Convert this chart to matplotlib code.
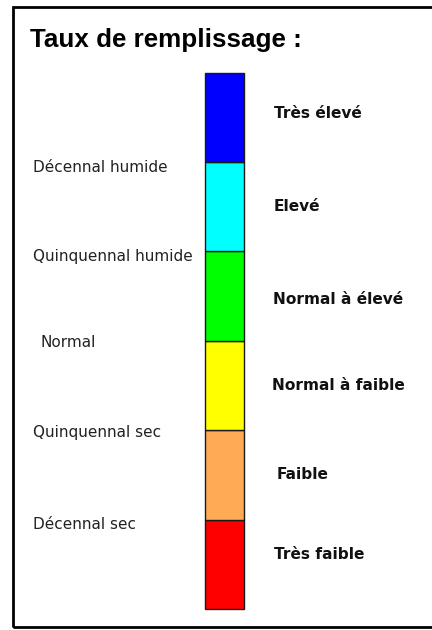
import matplotlib
matplotlib.use("Agg")
import matplotlib.pyplot as plt
from matplotlib.patches import Rectangle

# niveaux du bas vers le haut
niveaux = ["Très faible", "Faible", "Normal à faible", "Normal à élevé", "Elevé", "Très élevé"]
couleurs = ["#FF0000", "#FFAA55", "#FFFF00", "#00FF00", "#00FFFF", "#0000FF"]
# seuils aux limites entre niveaux (1 = entre Très faible et Faible, ...)
seuils = ["Décennal sec", "Quinquennal sec", "Normal", "Quinquennal humide", "Décennal humide"]
titre = "Taux de remplissage :"

W, H = 432, 630
fig = plt.figure(figsize=(W / 100, H / 100), dpi=100)
fig.patch.set_facecolor("white")

# cadre noir (bord droit hors image)
cadre = Rectangle((13 / W, 1 - 627 / H), 1.0, (627 - 7) / H, transform=fig.transFigure,
                  fill=False, edgecolor="black", linewidth=2.0, clip_on=False)
fig.patches.append(cadre)

fig.text(30 / W, 1 - 47 / H, titre, fontsize=18.7, fontweight="bold",
         family="Liberation Sans", va="baseline", ha="left")

ax = fig.add_axes([205 / W, 1 - 609 / H, 39 / W, (609 - 72.5) / H])
ax.set_xlim(0, 1)
ax.set_ylim(0, len(niveaux))
ax.axis("off")

for i, (nom, c) in enumerate(zip(niveaux, couleurs)):
    ax.bar(0.5, 1, width=1, bottom=i, color=c, edgecolor="#1a1a1a", linewidth=1.0, clip_on=False)

# libellés à droite
x_droite = [274, 277, 272, 273, 274, 274]
dy_droite = [10, 0, 0, -3, 0, 4]
for i, nom in enumerate(niveaux):
    ax.annotate(nom, xy=(x_droite[i] / W, i + 0.5), xycoords=("figure fraction", "data"),
                xytext=(0, dy_droite[i]), textcoords="offset pixels",
                fontsize=11.1, fontweight="bold", family="DejaVu Sans",
                ha="left", va="center", color="#111111")

# libellés à gauche
x_gauche = [33, 33, 40, 33, 33]
dy_gauche = [-5, -2, -2, -5, -6]
for i, nom in enumerate(seuils):
    ax.annotate(nom, xy=(x_gauche[i] / W, i + 1), xycoords=("figure fraction", "data"),
                xytext=(0, dy_gauche[i]), textcoords="offset pixels",
                fontsize=11.0, family="DejaVu Sans",
                ha="left", va="center", color="#222222")

fig.savefig("out.png", dpi=100)
